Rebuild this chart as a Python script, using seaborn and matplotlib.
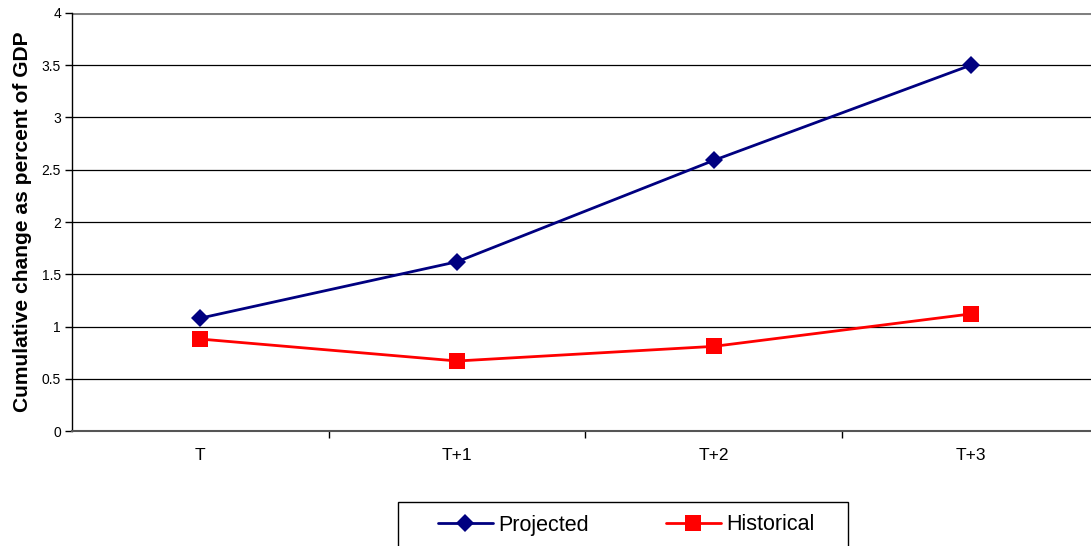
import matplotlib
matplotlib.use("Agg")
import matplotlib.pyplot as plt
from matplotlib.lines import Line2D
from matplotlib.patches import Rectangle
import seaborn as sns
import pandas as pd

periods = ["T", "T+1", "T+2", "T+3"]
projected = [1.08, 1.62, 2.59, 3.50]
historical = [0.88, 0.67, 0.81, 1.12]
y_ticks = [0, 0.5, 1, 1.5, 2, 2.5, 3, 3.5, 4]
y_tick_labels = ["0", "0.5", "1", "1.5", "2", "2.5", "3", "3.5", "4"]

df = pd.DataFrame({
    "period": periods * 2,
    "pos": list(range(len(periods))) * 2,
    "value": projected + historical,
    "series": ["Projected"] * 4 + ["Historical"] * 4,
})

sns.set_theme(style="white")
plt.rcParams["font.family"] = ["Liberation Sans", "DejaVu Sans"]
for key in ["text.color", "axes.labelcolor", "xtick.color", "ytick.color"]:
    plt.rcParams[key] = "black"

W, H = 1091, 546
fig = plt.figure(figsize=(W / 100, H / 100), dpi=100)
ax = fig.add_axes([0.066, 0.2106, 0.9413, 0.7656])

sns.lineplot(
    data=df, x="pos", y="value", hue="series", style="series",
    palette={"Projected": "#000080", "Historical": "#FF0000"},
    markers={"Projected": "D", "Historical": "s"},
    dashes=False, markersize=9, linewidth=2, markeredgewidth=0,
    ax=ax, legend=False,
)
# slightly larger squares for the historical series
for line in ax.lines:
    if line.get_marker() == "s":
        line.set_markersize(11)

ax.set_xlim(-0.5, 3.5)
ax.set_ylim(0, 4)
ax.set_yticks(y_ticks)
ax.set_yticklabels(y_tick_labels, fontsize=10)
ax.set_xticks([0, 1, 2, 3])
ax.set_xticklabels(periods, fontsize=12.5)
ax.tick_params(axis="x", length=0, pad=12)
ax.tick_params(axis="y", length=5, width=1, color="black", direction="out", pad=3, left=True)
# category boundary ticks on the x axis
ax.set_xticks([0.5, 1.5, 2.5], minor=True)
ax.tick_params(axis="x", which="minor", length=5, width=1, color="black", direction="out", bottom=True)

ax.grid(axis="y", color="black", linewidth=0.9)
ax.grid(axis="x", visible=False)
ax.set_axisbelow(True)
for side in ["top", "right"]:
    ax.spines[side].set_visible(False)
ax.spines["left"].set_color("black")
ax.spines["left"].set_linewidth(1)
ax.spines["bottom"].set_color("#555555")
ax.spines["bottom"].set_linewidth(1.5)
ax.axhline(4, color="#808080", linewidth=2.2, zorder=1.5)

ax.set_xlabel("")
ax.set_ylabel("Cumulative change as percent of GDP", fontsize=15.1, fontweight="bold", labelpad=7)

# legend box (runs past the lower edge of the figure)
fig.patches.append(Rectangle(
    (398 / W, -0.05), (848 - 398) / W, 0.05 + (1 - 502 / H),
    transform=fig.transFigure, facecolor="white", edgecolor="black",
    linewidth=1, zorder=1,
))
handles = [
    Line2D([], [], color="#000080", marker="D", markersize=9, linewidth=2, markeredgewidth=0),
    Line2D([], [], color="#FF0000", marker="s", markersize=11, linewidth=2, markeredgewidth=0),
]
leg = fig.legend(
    handles, ["Projected", "Historical"], loc="center left",
    bbox_to_anchor=(438 / W, 1 - 525 / H), ncol=2, fontsize=15.5,
    frameon=False, borderpad=0, borderaxespad=0,
    handlelength=2.55, columnspacing=3.6, handletextpad=0.23,
)
leg.set_zorder(2)

fig.savefig("out.png", dpi=100)
